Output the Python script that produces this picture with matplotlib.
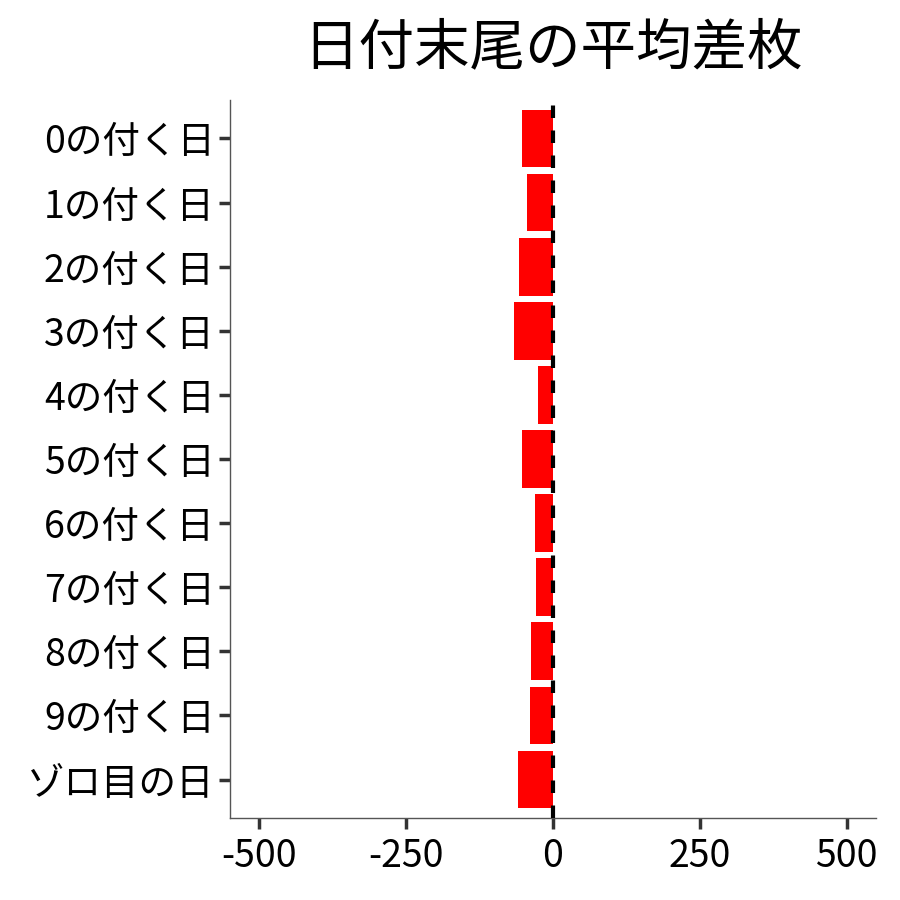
import matplotlib
matplotlib.use("Agg")
import matplotlib.pyplot as plt

plt.rcParams['font.family'] = ['Noto Sans CJK JP', 'DejaVu Sans']

categories = ["0の付く日", "1の付く日", "2の付く日", "3の付く日", "4の付く日",
              "5の付く日", "6の付く日", "7の付く日", "8の付く日", "9の付く日", "ゾロ目の日"]
values = [-53, -44, -58, -66, -26, -53, -31, -29, -37, -39, -60]
xticks = [-500, -250, 0, 250, 500]
xticklabels = ["-500", "-250", "0", "250", "500"]
title = "日付末尾の平均差枚"

fig = plt.figure(figsize=(9, 9), dpi=100)
ax = fig.add_axes([0.2556, 0.0911, 0.7177, 0.7978])

pos = list(range(len(categories)))
ax.barh(pos, values, height=0.9, color="#FF0000", zorder=2)
ax.axvline(0, color="black", linestyle=(0, (3, 3)), linewidth=3, zorder=3)

ax.set_ylim(len(categories) - 1 + 0.6, -0.6)
ax.set_xlim(-550, 550)
ax.set_yticks(pos)
ax.set_yticklabels(categories, fontsize=27)
ax.set_xticks(xticks)
ax.set_xticklabels(xticklabels, fontsize=27)

for s in ["top", "right"]:
    ax.spines[s].set_visible(False)
for s in ["left", "bottom"]:
    ax.spines[s].set_color("#555555")
    ax.spines[s].set_linewidth(1)
ax.tick_params(axis="y", length=8, width=2.5, color="#333333", labelcolor="black", pad=3)
ax.tick_params(axis="x", length=8, width=2.5, color="#333333", labelcolor="black", pad=6)

fig.text(0.6144, 0.946, title, ha="center", va="center", fontsize=40)

fig.savefig("out.png", dpi=100)
